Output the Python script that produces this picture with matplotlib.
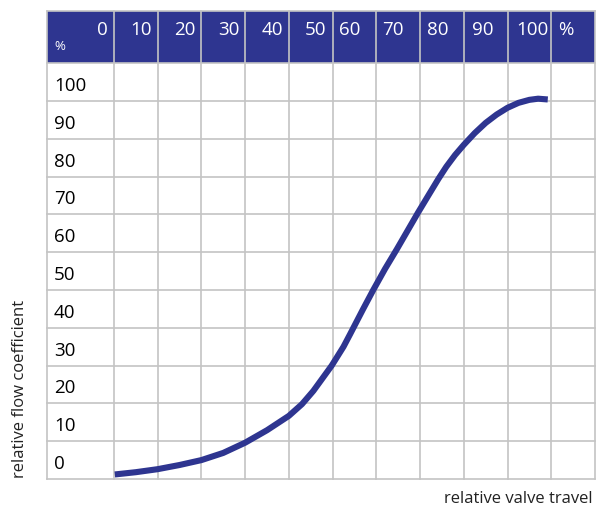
import matplotlib
matplotlib.use("Agg")
import matplotlib.pyplot as plt
from matplotlib.patches import Rectangle

plt.rcParams['font.family'] = ['Open Sans', 'DejaVu Sans']

# ---- data ----
travel = [0.2, 5, 10, 15, 20, 25, 30, 35, 40, 43, 45.6, 49.8, 52.5, 54, 57,
          59.3, 62, 64.7, 67, 69.5, 72, 74.2, 76, 78, 80, 82.5, 85, 87.5, 90,
          92.5, 95, 97, 99.2]
flow = [1.2, 1.8, 2.6, 3.7, 5.0, 6.9, 9.6, 12.9, 16.7, 19.8, 23.3, 30, 35, 38.3,
        45, 50, 55.6, 60.8, 65.4, 70.4, 75.2, 79.4, 82.6, 85.7, 88.4, 91.5, 94.2,
        96.4, 98.2, 99.5, 100.3, 100.6, 100.4]
x_ticks = [0, 10, 20, 30, 40, 50, 60, 70, 80, 90, 100]
y_ticks = [0, 10, 20, 30, 40, 50, 60, 70, 80, 90, 100]
x_label = "relative valve travel"
y_label = "relative flow coefficient"

BLUE = "#2E3590"
GRID = "#C4C4C4"

W, H = 598, 508
fig = plt.figure(figsize=(W / 100, H / 100), dpi=100)
L, R, T, B = 47, 595, 11, 479
ax = fig.add_axes([L / W, 1 - B / H, (R - L) / W, (B - T) / H])
xmin, xmax = -15.3, 110
ymin, ymax = 0, 123.8
ax.set_xlim(xmin, xmax)
ax.set_ylim(ymin, ymax)
ax.axis('off')

# header band
ax.add_patch(Rectangle((xmin, 110), xmax - xmin, ymax - 110, facecolor=BLUE,
                       edgecolor='none', zorder=1, clip_on=False))

# grid
lw = 1.2
for xv in [xmin] + x_ticks + [110]:
    ax.plot([xv, xv], [ymin, ymax], color=GRID, lw=lw, zorder=2, clip_on=False)
for yv in y_ticks + [110, ymax]:
    ax.plot([xmin, xmax], [yv, yv], color=GRID, lw=lw, zorder=2, clip_on=False)

# curve
ax.plot(travel, flow, color=BLUE, lw=4.4, solid_capstyle='butt',
        solid_joinstyle='round', zorder=3)

# header labels
px = (xmax - xmin) / (R - L)  # data units per pixel in x
hy = 117.5
fs = 13.5
for v in x_ticks:
    if v <= 50:
        ax.text(v - 6 * px, hy, str(v), color='white', fontsize=fs,
                ha='right', va='baseline', zorder=4)
    elif v < 100:
        off = {60: 6, 70: 6, 80: 7, 90: 8}[v]
        ax.text(v - 10 + off * px, hy, str(v), color='white', fontsize=fs,
                ha='left', va='baseline', zorder=4)
    else:
        ax.text(v - 3 * px, hy, str(v), color='white', fontsize=fs,
                ha='right', va='baseline', zorder=4)
ax.text(100 + 7 * px, hy, "%", color='white', fontsize=fs,
        ha='left', va='baseline', zorder=4)
ax.text(xmin + 7 * px, 113.5, "%", color='white', fontsize=9.5,
        ha='left', va='baseline', zorder=4)

# row labels
for v in y_ticks:
    ax.text(xmin + 7 * px, v + 2.65, str(v), color='black', fontsize=fs,
            ha='left', va='baseline', zorder=4)

fig.text(20 / W, 1 - 478 / H, y_label, rotation=90, ha='center', va='bottom',
         fontsize=12, color='#222222')
fig.text(593 / W, 1 - 503 / H, x_label, ha='right', va='baseline',
         fontsize=12, color='#222222')

fig.savefig("out.png", dpi=100, facecolor='white')
